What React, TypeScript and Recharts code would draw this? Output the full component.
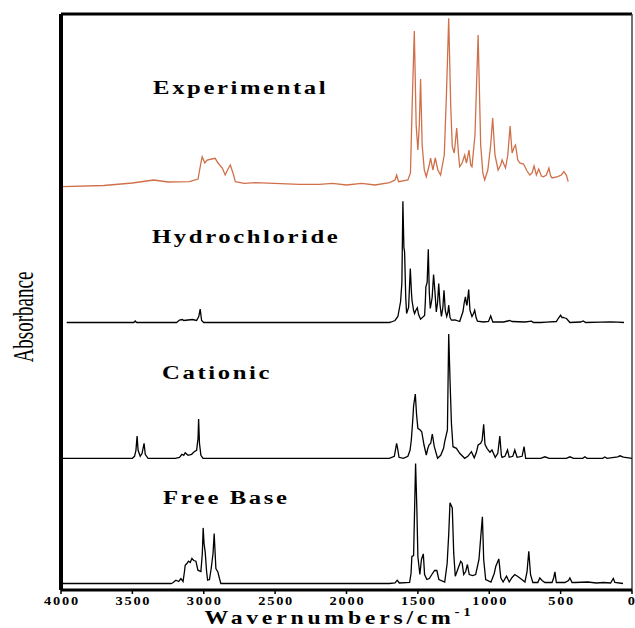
import { LineChart, Line, XAxis, YAxis, ReferenceLine, ReferenceDot } from 'recharts';

type Pt = [number, number];

// wavenumber (cm-1), absorbance above each trace's own baseline (arb. units)
const experimental: Pt[] = [
  [3990, -1.7], [3700, -0.5], [3500, 2], [3350, 5], [3250, 3], [3100, 3.3], [3040, 6], [3020, 22],
  [3011, 28.3], [2993, 22], [2976, 25], [2945, 26], [2920, 26.7], [2900, 22], [2870, 17], [2850, 10],
  [2830, 16], [2814, 20], [2795, 12], [2779, 3.3], [2716, 1.7], [2639, 2.3], [2330, 0.7], [2190, 0.7],
  [2100, 1.7], [2000, 0], [1895, 1.7], [1800, 0], [1698, 2.3], [1660, 5], [1649, 10], [1635, 3.3],
  [1570, 5], [1552, 12], [1539, 85], [1525, 154], [1512, 60], [1500, 35], [1490, 60], [1481, 106],
  [1470, 40], [1455, 15], [1441, 8.3], [1420, 20], [1411, 27], [1395, 15], [1378, 27], [1360, 15],
  [1341, 10], [1315, 30], [1300, 90], [1284, 166.7], [1270, 80], [1259, 38.3], [1245, 32], [1228, 57],
  [1215, 30], [1207, 18.3], [1190, 22], [1172, 30], [1160, 22], [1155, 25], [1142, 35], [1130, 20],
  [1121, 18.3], [1100, 50], [1078, 150], [1060, 40], [1045, 12], [1032, 5], [1010, 15], [990, 40],
  [976, 67], [960, 30], [938, 15], [920, 20], [910, 25], [886, 17], [870, 30], [854, 59], [840, 32],
  [825, 38], [816, 40], [800, 25], [786, 22], [760, 21], [735, 14], [716, 10], [700, 12], [686, 19],
  [670, 10], [653, 16], [635, 9], [620, 8.3], [600, 10], [582, 17], [570, 9], [560, 7], [520, 8.3],
  [495, 10], [477, 13.3], [460, 10], [447, 3.3],
];

const hydrochloride: Pt[] = [
  [3960, 0], [3490, 0], [3480, 1.5], [3470, 0], [3190, 0], [3170, 2.5], [3150, 3], [3140, 2],
  [3110, 2.5], [3080, 3], [3050, 2], [3035, 6], [3025, 13.4], [3015, 2], [3000, 0], [1700, 0],
  [1686, 0.5], [1660, 2], [1640, 6], [1621, 21], [1612, 40], [1605, 121.3], [1598, 75], [1593, 70.6],
  [1585, 25], [1579, 9], [1565, 15], [1553, 54], [1545, 30], [1541, 22], [1530, 12], [1523, 9],
  [1515, 12], [1504, 14.6], [1495, 8], [1481, 3.3], [1453, 7], [1448, 20], [1444, 35.6], [1435, 40],
  [1427, 73.3], [1420, 30], [1413, 14], [1400, 25], [1390, 48], [1380, 30], [1371, 10.6], [1362, 20],
  [1354, 39], [1345, 18], [1335, 6], [1325, 15], [1317, 32.3], [1308, 12], [1298, 6], [1290, 10],
  [1284, 17.3], [1275, 5], [1265, 2.3], [1240, 2.5], [1207, 1], [1184, 11], [1175, 20], [1167, 25.6],
  [1160, 19], [1156, 17], [1150, 25], [1144, 33], [1135, 12], [1121, 6], [1110, 9], [1102, 12.3],
  [1092, 5], [1083, 1.3], [1040, 0.5], [1005, 1], [990, 6.6], [975, 0.5], [900, 0.5], [870, 1.5],
  [856, 2], [840, 1], [750, 0.5], [704, 1.3], [690, 0], [640, 0], [600, 0.3], [530, 1], [517, 4],
  [500, 7.3], [490, 5], [482, 5], [470, 4.5], [459, 4], [435, 0], [360, 0.5], [342, 1.6], [325, 0],
  [220, 0.3], [150, 0.5], [100, 0.3], [56, 0],
];

const cationic: Pt[] = [
  [3990, 0], [3500, 0], [3485, 2], [3475, 8], [3467, 22.3], [3460, 8], [3445, 2], [3432, 5],
  [3418, 15], [3410, 4], [3390, 0], [3200, 0], [3170, 1], [3153, 4], [3140, 3], [3130, 5.6],
  [3110, 3], [3085, 4], [3067, 6.6], [3050, 8], [3040, 20], [3036, 39.3], [3030, 15], [3020, 3],
  [3005, 0], [1700, 0], [1665, 2], [1655, 10], [1649, 15], [1642, 10], [1632, 1], [1602, 0],
  [1570, 2], [1555, 8], [1546, 18], [1535, 40], [1530, 52.3], [1518, 64.3], [1509, 43.3], [1500, 30],
  [1484, 28.3], [1473, 26.6], [1457, 13.3], [1441, 3.3], [1430, 10], [1422, 13.3], [1410, 15],
  [1399, 24.3], [1385, 11.6], [1362, 0], [1340, 3], [1320, 10], [1312, 16.6], [1293, 28.3],
  [1284, 124.3], [1275, 79], [1265, 35], [1254, 11.6], [1230, 10], [1207, 5], [1172, 0], [1150, 2],
  [1125, 6.6], [1105, 0.5], [1090, 6], [1078, 13.3], [1060, 15], [1050, 18], [1039, 34], [1030, 14],
  [1016, 10], [995, 6], [981, 8.3], [958, 1], [940, 5], [926, 22.3], [915, 3], [910, 1], [890, 2],
  [872, 8.3], [860, 1], [835, 2], [821, 8.3], [805, 1], [770, 2], [756, 11.6], [745, 0], [640, 0],
  [610, 1.5], [580, 0], [460, 0], [435, 1.5], [410, 0], [345, 0], [330, 1.5], [315, 0], [205, 0],
  [190, 1.3], [175, 0], [100, 1.5], [84, 2.5], [60, 1.2], [0, 0],
];

const freeBase: Pt[] = [
  [3990, 0], [3230, 0], [3219, 0.5], [3195, 3.3], [3175, 2], [3160, 5], [3145, 2], [3135, 12],
  [3130, 18.3], [3118, 20], [3107, 22.3], [3095, 21], [3083, 25], [3070, 23], [3055, 22.3],
  [3041, 13.3], [3020, 12], [3010, 30], [3004, 55.6], [2998, 40], [2990, 31.6], [2980, 12],
  [2973, 3.3], [2960, 4], [2948, 15], [2935, 30], [2927, 50], [2915, 15], [2901, 11.6], [2890, 5],
  [2880, 0], [1700, 0], [1660, 0.5], [1645, 3.3], [1630, 0.5], [1558, 1], [1548, 10], [1542, 27],
  [1530, 28], [1516, 120], [1507, 74], [1500, 27], [1486, 9], [1475, 24], [1462, 29.6], [1453, 9],
  [1437, 4], [1420, 5], [1402, 9], [1383, 13], [1367, 13], [1353, 4], [1312, 1.5], [1295, 20],
  [1284, 49], [1275, 80.7], [1259, 75.6], [1249, 30.6], [1238, 7.3], [1221, 14], [1200, 22.3],
  [1190, 20.6], [1179, 9], [1165, 12], [1153, 19], [1140, 9], [1116, 8], [1095, 9], [1072, 24],
  [1060, 45.6], [1048, 66.7], [1039, 24], [1025, 4], [988, 1.5], [965, 10], [954, 17.3], [933, 24.6],
  [919, 5.6], [903, 1.5], [879, 7.3], [860, 1.5], [840, 6], [821, 9], [800, 7], [772, 4], [750, 1.5],
  [735, 12], [732, 17.3], [723, 32.3], [711, 9], [695, 1], [660, 1], [646, 5.6], [630, 3], [610, 1],
  [560, 1], [548, 6], [540, 11.6], [530, 1], [470, 1], [445, 3], [435, 5.6], [420, 1], [400, 1],
  [310, 1.5], [250, 0.5], [200, 1], [150, 0.5], [131, 5], [120, 1], [63, 0],
];

const xTicks = [0, 500, 1000, 1500, 2000, 2500, 3000, 3500, 4000];

// vertical stacking of the traces
const OFFSET = { experimental: 405, hydrochloride: 267.5, cationic: 131.7, freeBase: 6.5 };
const Y_MAX = 576;

const SERIF = "'Liberation Serif', 'Times New Roman', serif";

const toRows = (pts: Pt[], offset: number) => pts.map(([x, y]) => ({ x, y: y + offset }));

// the source figure uses a wide, heavy serif: bold Times stretched sideways
const title = (text: string) => (props: any) => {
  const vb = props.viewBox;
  return (
    <text transform={`translate(${vb.x}, ${vb.y}) scale(1.3, 1)`} fontFamily={SERIF} fontWeight="bold" fontSize={19} letterSpacing={2} fill="#000">
      {text}
    </text>
  );
};

const XTick = (props: any) => {
  // last label sits on the right frame edge; keep it inside the page
  const atEdge = props.payload.value === 0;
  return (
    <text
      transform={`translate(${atEdge ? props.x + 3 : props.x + 1}, ${props.y + 8.5}) scale(1.2, 1)`}
      textAnchor={atEdge ? 'end' : 'middle'}
      fontFamily={SERIF}
      fontWeight="bold"
      fontSize={12}
      letterSpacing={atEdge ? 0 : 1.5}
      fill="#000"
    >
      {props.payload.value}
    </text>
  );
};

const xTitle = (props: any) => {
  const vb = props.viewBox;
  return (
    <text transform={`translate(${vb.x + vb.width / 2 - 7}, 624) scale(1.25, 1)`} textAnchor="middle" fontFamily={SERIF} fontWeight="bold" fontSize={19} letterSpacing={3} fill="#000">
      Wavernumbers/cm<tspan dy={-8} fontSize={12}>-1</tspan>
    </text>
  );
};

const yTitle = (props: any) => {
  const vb = props.viewBox;
  const cx = vb.x + 7;
  const cy = vb.y + vb.height / 2 + 15;
  return (
    <text transform={`translate(${cx}, ${cy}) rotate(-90) scale(1, 1.5)`} textAnchor="middle" dy="0.35em" fontFamily={SERIF} fontSize={19} fill="#000">
      Absorbance
    </text>
  );
};

export default function App() {
  return (
    <div style={{ position: 'absolute', left: 0, top: 0, background: '#fff' }}>
      <LineChart width={635} height={628} margin={{ top: 14, right: 3, bottom: 0, left: 16 }}>
        <XAxis
          dataKey="x"
          type="number"
          domain={[0, 4000]}
          reversed
          ticks={xTicks}
          interval={0}
          height={38}
          tickSize={4}
          tickMargin={2}
          tick={<XTick />}
          axisLine={{ stroke: '#000', strokeWidth: 3 }}
          tickLine={{ stroke: '#000', strokeWidth: 1.5 }}
          label={xTitle}
        />
        <YAxis
          type="number"
          domain={[0, Y_MAX]}
          allowDataOverflow
          width={45}
          tick={false}
          tickLine={false}
          axisLine={{ stroke: '#000', strokeWidth: 4 }}
          label={yTitle}
        />
        <ReferenceLine y={Y_MAX} stroke="#000" strokeWidth={3} />
        <ReferenceLine x={0} stroke="#444" strokeWidth={1.5} />

        <Line data={toRows(experimental, OFFSET.experimental)} dataKey="y" type="linear" stroke="#d0704a" strokeWidth={1.3} dot={false} isAnimationActive={false} />
        <Line data={toRows(hydrochloride, OFFSET.hydrochloride)} dataKey="y" type="linear" stroke="#000" strokeWidth={1.3} dot={false} isAnimationActive={false} />
        <Line data={toRows(cationic, OFFSET.cationic)} dataKey="y" type="linear" stroke="#000" strokeWidth={1.3} dot={false} isAnimationActive={false} />
        <Line data={toRows(freeBase, OFFSET.freeBase)} dataKey="y" type="linear" stroke="#000" strokeWidth={1.3} dot={false} isAnimationActive={false} />

        <ReferenceDot x={3355} y={496} r={0} fill="none" stroke="none" label={title('Experimental')} />
        <ReferenceDot x={3362} y={347} r={0} fill="none" stroke="none" label={title('Hydrochloride')} />
        <ReferenceDot x={3292} y={211} r={0} fill="none" stroke="none" label={title('Cationic')} />
        <ReferenceDot x={3285} y={86} r={0} fill="none" stroke="none" label={title('Free Base')} />
      </LineChart>
    </div>
  );
}
